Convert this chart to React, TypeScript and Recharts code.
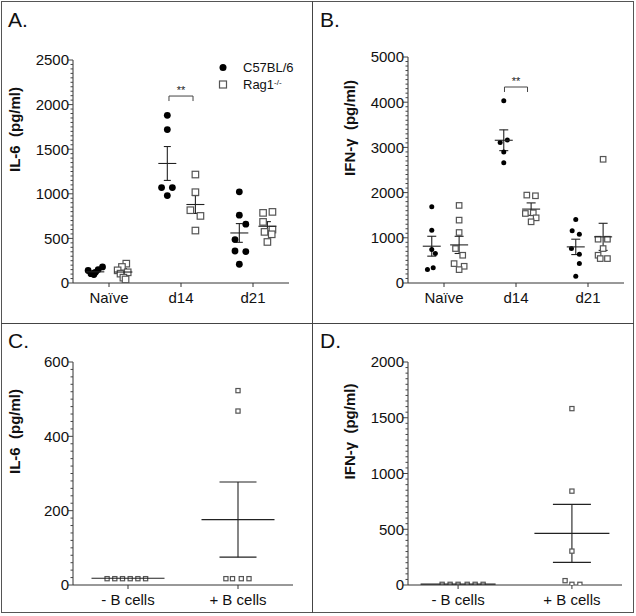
import React from "react";
import { ScatterChart, Scatter, XAxis, YAxis, ErrorBar, ReferenceLine, Legend } from "recharts";

const FONT = "'Liberation Sans', Arial, Helvetica, sans-serif";

const timeCats = ["Naïve", "d14", "d21"];
const cellCats = ["- B cells", "+ B cells"];
const legendNames = ["C57BL/6", "Rag1"];

// A. IL-6, one list per time point
const il6C57 = [
  [140, 105, 120, 150, 180, 95],
  [1880, 1720, 1070, 1070, 980],
  [1022, 760, 659, 487, 359, 352, 210],
];
const il6C57Jit = [
  [-0.1, -0.06, 0, 0.04, 0.1, -0.02],
  [0, 0, -0.08, 0.07, 0],
  [0, 0, 0.09, -0.06, -0.06, 0.09, 0],
];
const il6C57Mean = [125, 1340, 561];
const il6C57Sem = [15, 190, 105];

const il6Rag = [
  [217, 180, 142, 120, 105, 60, 40],
  [1216, 1018, 816, 752, 588],
  [797, 786, 685, 599, 573, 546, 460],
];
const il6RagJit = [
  [0.04, -0.02, -0.08, 0.06, -0.04, 0, 0.03],
  [0, 0, -0.07, 0.07, 0],
  [0.07, -0.06, -0.06, 0.07, -0.04, 0.06, 0],
];
const il6RagMean = [123, 880, 636];
const il6RagSem = [40, 100, 52];

// B. IFN-γ
const ifnC57 = [
  [1686, 1169, 740, 651, 340, 296],
  [4031, 3166, 3107, 2899, 2663],
  [1405, 1154, 1080, 762, 636, 429, 148],
];
const ifnC57Jit = [
  [0, 0, 0, 0.05, 0.02, -0.06],
  [0, 0.05, -0.05, 0, 0],
  [0, -0.05, 0.05, -0.06, 0.05, 0.05, 0],
];
const ifnC57Mean = [814, 3158, 799];
const ifnC57Sem = [220, 230, 170];

const ifnRag = [
  [1716, 1391, 1117, 762, 614, 429, 370, 296],
  [1945, 1930, 1553, 1538, 1442, 1354],
  [2737, 969, 969, 762, 614, 540, 540],
];
const ifnRagJit = [
  [0, 0, 0, -0.05, 0.05, -0.07, 0.07, 0],
  [-0.06, 0.06, 0.03, -0.08, 0.07, 0],
  [0, -0.07, 0.06, 0, -0.07, -0.04, 0.06],
];
const ifnRagMean = [843, 1635, 1021];
const ifnRagSem = [190, 137, 300];

// C. IL-6, B cell transfer
const il6Cells = [
  [17, 17, 17, 17, 17, 17],
  [523, 468, 17, 17, 17, 17],
];
const il6CellsJit = [
  [-0.19, -0.12, -0.05, 0.02, 0.09, 0.16],
  [0, 0, -0.11, -0.05, 0.03, 0.1],
];
const il6CellsMean = [18, 176];
const il6CellsSem = [0, 101];

// D. IFN-γ, B cell transfer
const ifnCells = [
  [6, 6, 6, 6, 6, 6],
  [1582, 842, 304, 39, 6, 6],
];
const ifnCellsJit = [
  [-0.14, -0.07, 0, 0.08, 0.15, 0.22],
  [0, 0, 0, -0.06, 0, 0.07],
];
const ifnCellsMean = [8, 463];
const ifnCellsSem = [0, 260];

const toPoints = (values: number[][], jit: number[][], shift: number) =>
  values.flatMap((vals, i) => vals.map((v, j) => ({ x: i + 1 + shift + jit[i][j], y: v })));

const toMeans = (means: number[], sems: number[], shift: number) =>
  means.map((m, i) => ({ x: i + 1 + shift, y: m, err: sems[i] }));

const tickList = (max: number, step: number) =>
  Array.from({ length: Math.round(max / step) + 1 }, (_, i) => i * step);

const dot = (r: number) => (p: any) => <circle cx={p.cx} cy={p.cy} r={r} fill="#000" />;
const square = (s: number) => (p: any) => (
  <rect x={p.cx - s / 2} y={p.cy - s / 2} width={s} height={s} fill="#fff" stroke="#555" strokeWidth={1.2} />
);
const meanLine = (w: number) => (p: any) => (
  <line x1={p.cx - w / 2} x2={p.cx + w / 2} y1={p.cy} y2={p.cy} stroke="#222" strokeWidth={1.1} />
);

const yTick = (majors: number[]) => (p: any) => {
  const v = p.payload.value;
  const major = majors.includes(v);
  return (
    <g>
      <line x1={p.x} x2={p.x - (major ? 5 : 2.5)} y1={p.y} y2={p.y} stroke="#444" />
      {major && (
        <text x={p.x - 4} y={p.y} dy="0.36em" textAnchor="end" fontSize={15} fill="#111" fontFamily={FONT}>
          {v}
        </text>
      )}
    </g>
  );
};

const yTitle = (text: string, shiftY: number) => (props: any) => {
  const vb = props.viewBox || { x: 0, y: 0, width: 0, height: 0 };
  const cx = vb.x + vb.width - 58;
  const cy = vb.y + vb.height / 2 + shiftY;
  return (
    <text
      x={cx}
      y={cy}
      dy="0.36em"
      transform={`rotate(-90 ${cx} ${cy})`}
      textAnchor="middle"
      fontSize={15}
      fontWeight="bold"
      fill="#111"
      fontFamily={FONT}
      style={{ whiteSpace: "pre" }}
    >
      {text}
    </text>
  );
};

const starsLabel = (props: any) => {
  const vb = props.viewBox || { x: 0, y: 0, width: 0, height: 0 };
  return (
    <text x={vb.x + vb.width / 2} y={vb.y - 2} textAnchor="middle" fontSize={11} fill="#222" fontFamily={FONT}>
      **
    </text>
  );
};

const renderLegend = () => (
  <div style={{ fontFamily: FONT, fontSize: 13, color: "#111", lineHeight: "17px" }}>
    <div style={{ display: "flex", alignItems: "center" }}>
      <svg width={14} height={17}>
        <circle cx={7} cy={8.5} r={3.5} fill="#000" />
      </svg>
      <span style={{ marginLeft: 13 }}>{legendNames[0]}</span>
    </div>
    <div style={{ display: "flex", alignItems: "center" }}>
      <svg width={14} height={17}>
        <rect x={3.5} y={5} width={7} height={7} fill="#fff" stroke="#555" strokeWidth={1.2} />
      </svg>
      <span style={{ marginLeft: 13 }}>
        {legendNames[1]}
        <sup style={{ fontSize: 8, verticalAlign: "top", position: "relative", top: -2 }}>-/-</sup>
      </span>
    </div>
  </div>
);

type Group = {
  points: { x: number; y: number }[];
  means: { x: number; y: number; err: number }[];
  shape: (p: any) => React.ReactElement;
};

type PanelProps = {
  left: number;
  top: number;
  width: number;
  height: number;
  margin: { top: number; right: number; bottom: number; left: number };
  cats: string[];
  xDomain: [number, number];
  yMax: number;
  majors: number[];
  step: number;
  title: string;
  groups: Group[];
  meanWidth: number;
  capHalf: number;
  bracket?: { x: number; half: number; y: number; drop: number };
  legend?: boolean;
};

function DotPlot(props: PanelProps) {
  const { left, top, width, height, margin, cats, xDomain, yMax, majors, step, title, groups, meanWidth, capHalf, bracket, legend } = props;
  return (
    <div style={{ position: "absolute", left, top }}>
      <ScatterChart width={width} height={height} margin={margin}>
        <XAxis
          type="number"
          dataKey="x"
          domain={xDomain}
          ticks={cats.map((_, i) => i + 1)}
          tickFormatter={(v: number) => cats[v - 1] ?? ""}
          allowDataOverflow
          height={40}
          stroke="#333"
          tickSize={4}
          tickMargin={5}
          interval={0}
          tick={{ fontSize: 15, fill: "#111", fontFamily: FONT }}
        />
        <YAxis
          type="number"
          dataKey="y"
          domain={[0, yMax]}
          ticks={tickList(yMax, step)}
          interval={0}
          allowDataOverflow
          width={60}
          stroke="#333"
          tickLine={false}
          tickSize={0}
          tickMargin={0}
          tick={yTick(majors)}
          label={yTitle(title, -42)}
        />
        {groups.map((g, i) => (
          <Scatter key={`p${i}`} data={g.points} shape={g.shape} isAnimationActive={false} />
        ))}
        {groups.map((g, i) => (
          <Scatter key={`m${i}`} data={g.means} shape={meanLine(meanWidth)} isAnimationActive={false}>
            <ErrorBar dataKey="err" direction="y" width={capHalf} stroke="#222" strokeWidth={1.1} isAnimationActive={false} />
          </Scatter>
        ))}
        {bracket && (
          <ReferenceLine
            segment={[
              { x: bracket.x - bracket.half, y: bracket.y },
              { x: bracket.x + bracket.half, y: bracket.y },
            ]}
            stroke="#444"
            label={starsLabel}
          />
        )}
        {bracket && (
          <ReferenceLine
            segment={[
              { x: bracket.x - bracket.half, y: bracket.y },
              { x: bracket.x - bracket.half, y: bracket.y - bracket.drop },
            ]}
            stroke="#444"
          />
        )}
        {bracket && (
          <ReferenceLine
            segment={[
              { x: bracket.x + bracket.half, y: bracket.y },
              { x: bracket.x + bracket.half, y: bracket.y - bracket.drop },
            ]}
            stroke="#444"
          />
        )}
        {legend && (
          <Legend
            layout="vertical"
            align="center"
            verticalAlign="middle"
            content={renderLegend}
            wrapperStyle={{ left: 216, top: 59, width: 95, height: 34 }}
          />
        )}
      </ScatterChart>
    </div>
  );
}

const panelLetter = (text: string, left: number, top: number) => (
  <div
    style={{
      position: "absolute",
      left,
      top,
      fontFamily: FONT,
      fontSize: 21,
      lineHeight: "21px",
      color: "#111",
    }}
  >
    {text}
  </div>
);

export default function App() {
  return (
    <div style={{ position: "absolute", left: 0, top: 0, width: 636, height: 616, background: "#fff" }}>
      <div
        style={{
          position: "absolute",
          left: 1,
          top: 1,
          width: 633,
          height: 612,
          border: "1px solid #555",
          boxSizing: "border-box",
        }}
      />
      <div style={{ position: "absolute", left: 312, top: 1, width: 1, height: 612, background: "#444" }} />
      <div style={{ position: "absolute", left: 1, top: 323, width: 633, height: 1, background: "#444" }} />

      <DotPlot
        left={0}
        top={0}
        width={312}
        height={323}
        margin={{ top: 60, right: 23, bottom: 0, left: 13 }}
        cats={timeCats}
        xDomain={[0.5, 3.5]}
        yMax={2500}
        majors={[0, 500, 1000, 1500, 2000, 2500]}
        step={50}
        title="IL-6  (pg/ml)"
        meanWidth={18}
        capHalf={3.5}
        groups={[
          { points: toPoints(il6C57, il6C57Jit, -0.19), means: toMeans(il6C57Mean, il6C57Sem, -0.19), shape: dot(3.4) },
          { points: toPoints(il6Rag, il6RagJit, 0.2), means: toMeans(il6RagMean, il6RagSem, 0.2), shape: square(6.5) },
        ]}
        bracket={{ x: 2, half: 0.167, y: 2096, drop: 56 }}
        legend
      />
      <DotPlot
        left={312}
        top={0}
        width={324}
        height={323}
        margin={{ top: 57, right: 12, bottom: 0, left: 36 }}
        cats={timeCats}
        xDomain={[0.5, 3.5]}
        yMax={5000}
        majors={[0, 1000, 2000, 3000, 4000, 5000]}
        step={100}
        title="IFN-γ  (pg/ml)"
        meanWidth={18}
        capHalf={4.5}
        groups={[
          { points: toPoints(ifnC57, ifnC57Jit, -0.17), means: toMeans(ifnC57Mean, ifnC57Sem, -0.17), shape: dot(2.5) },
          { points: toPoints(ifnRag, ifnRagJit, 0.21), means: toMeans(ifnRagMean, ifnRagSem, 0.21), shape: square(5.5) },
        ]}
        bracket={{ x: 2, half: 0.16, y: 4336, drop: 110 }}
      />
      <DotPlot
        left={0}
        top={323}
        width={312}
        height={293}
        margin={{ top: 39, right: 19, bottom: -9, left: 13 }}
        cats={cellCats}
        xDomain={[0.5, 2.5]}
        yMax={600}
        majors={[0, 200, 400, 600]}
        step={20}
        title="IL-6  (pg/ml)"
        meanWidth={73}
        capHalf={18.5}
        groups={[
          { points: toPoints(il6Cells, il6CellsJit, 0), means: toMeans(il6CellsMean, il6CellsSem, 0), shape: square(4.2) },
        ]}
      />
      <DotPlot
        left={312}
        top={323}
        width={324}
        height={293}
        margin={{ top: 39, right: 14, bottom: -9, left: 36 }}
        cats={cellCats}
        xDomain={[0.56, 2.44]}
        yMax={2000}
        majors={[0, 500, 1000, 1500, 2000]}
        step={50}
        title="IFN-γ  (pg/ml)"
        meanWidth={75}
        capHalf={19}
        groups={[
          { points: toPoints(ifnCells, ifnCellsJit, 0), means: toMeans(ifnCellsMean, ifnCellsSem, 0), shape: square(4.2) },
        ]}
      />

      {panelLetter("A.", 8, 9)}
      {panelLetter("B.", 320, 9)}
      {panelLetter("C.", 8, 330)}
      {panelLetter("D.", 320, 330)}
    </div>
  );
}
